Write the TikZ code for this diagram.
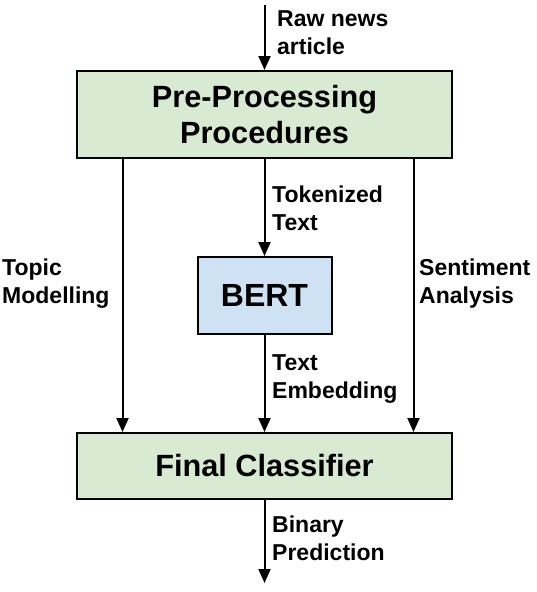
\documentclass[tikz,border=0pt]{standalone}
\usepackage{fontspec}
\setmainfont{Liberation Sans}
\usetikzlibrary{arrows.meta}
\definecolor{boxgreen}{HTML}{D9EAD3}
\definecolor{boxblue}{HTML}{CFE2F3}
\tikzset{
  stagebox/.style={draw=black, line width=2pt, inner sep=0pt, align=center,
    font=\fontsize{30.7}{35.5}\selectfont\bfseries},
  lbl/.style={anchor=base west, inner sep=0pt, align=left,
    font=\fontsize{23}{28}\selectfont\bfseries},
  arr/.style={line width=2pt, -{Triangle[length=14pt,width=12pt]}}
}
\begin{document}
\begin{tikzpicture}[x=1pt,y=-1pt]
\useasboundingbox (0,0) rectangle (536,592);
\node[stagebox, fill=boxgreen, minimum width=375pt, minimum height=87pt] (pre) at (264.5,114.5) {Pre-Processing\\Procedures};
\node[stagebox, fill=boxblue, minimum width=134pt, minimum height=77pt, font=\fontsize{32}{36}\selectfont\bfseries] (bert) at (264.5,295.5) {BERT};
\node[stagebox, fill=boxgreen, minimum width=375pt, minimum height=66pt] (fin) at (264.5,466) {Final Classifier};
\coordinate (src) at (264.5,5);
\coordinate (out) at (264.5,583);
\coordinate (lx) at (122.5,0);
\coordinate (rx) at (413.5,0);
\draw[arr] (src) -- (pre.north);
\draw[arr] (pre.south) -- (bert.north);
\draw[arr] (bert.south) -- (fin.north);
\draw[arr] (pre.south -| lx) -- (fin.north -| lx);
\draw[arr] (pre.south -| rx) -- (fin.north -| rx);
\draw[arr] (fin.south) -- (out);
\node[lbl] (l1) at (277,54) {Raw news\\article};
\node[lbl] (l2) at (272,230) {Tokenized\\Text};
\node[lbl] (l3) at (2,303) {Topic\\Modelling};
\node[lbl] (l4) at (419,303) {Sentiment\\Analysis};
\node[lbl] (l5) at (272,398) {Text\\Embedding};
\node[lbl] (l6) at (272,560) {Binary\\Prediction};
\end{tikzpicture}
\end{document}
